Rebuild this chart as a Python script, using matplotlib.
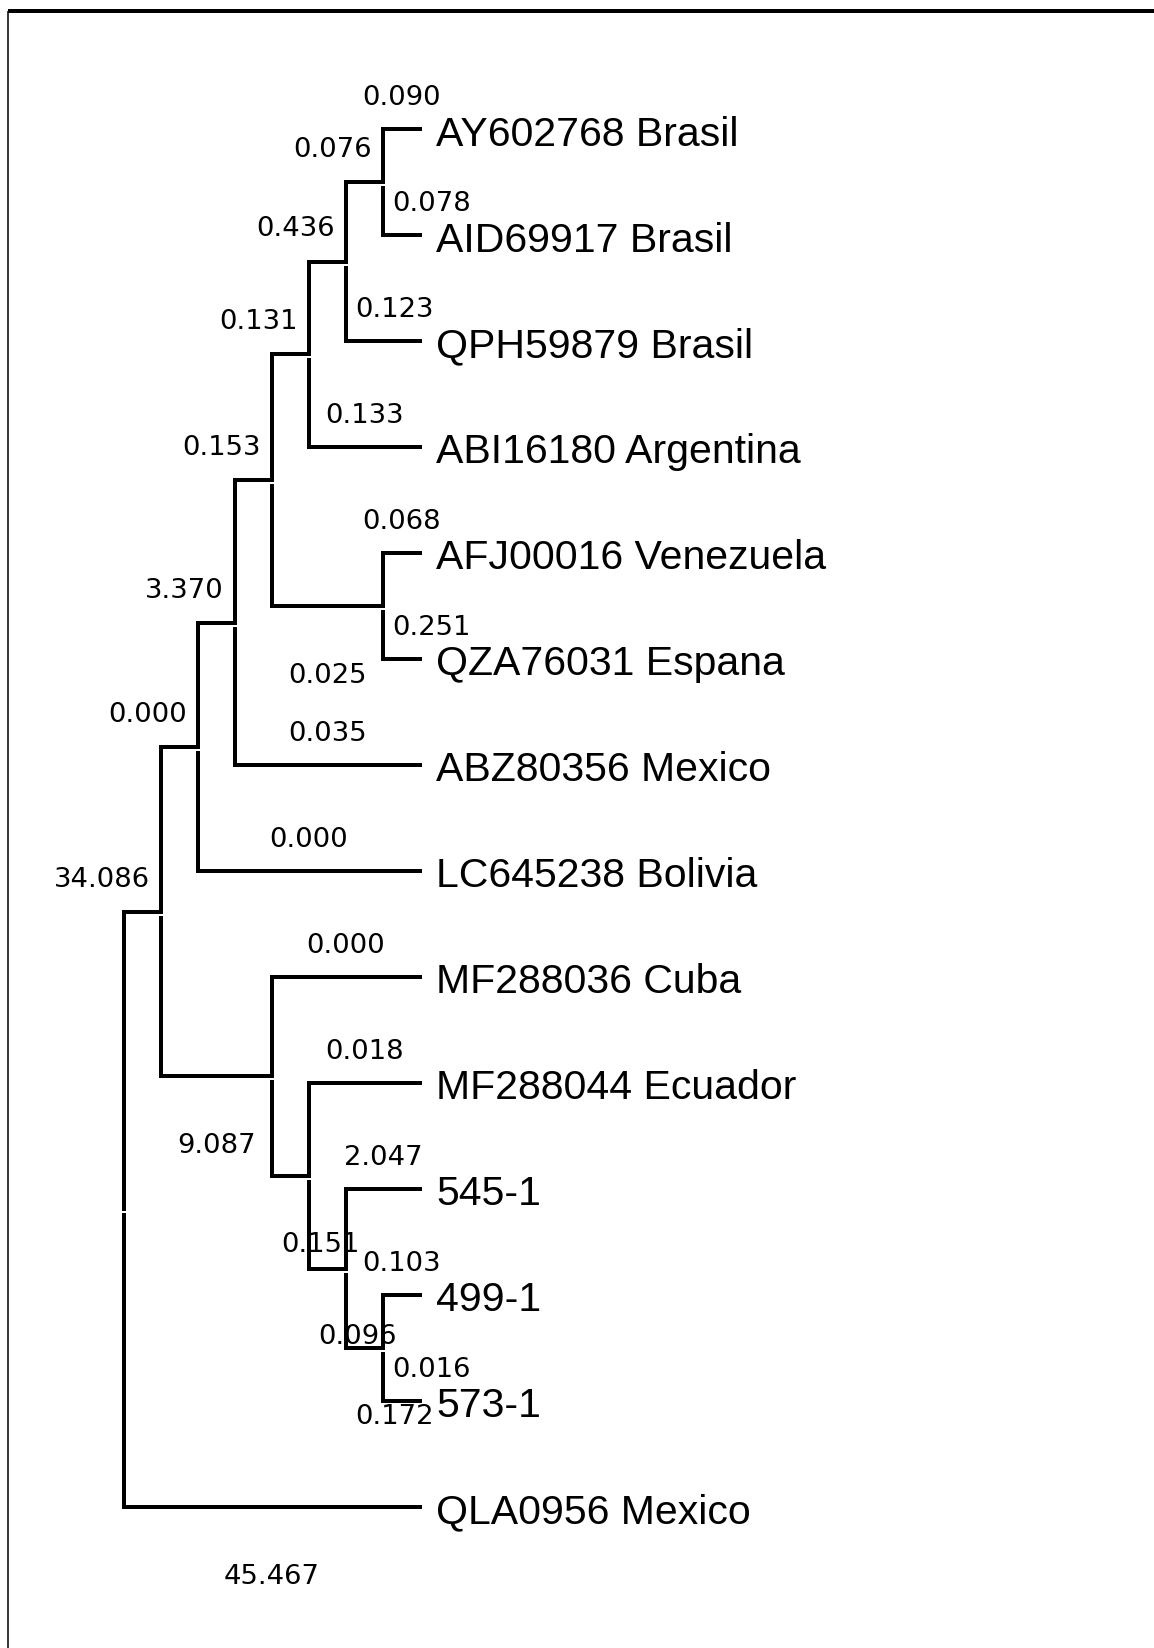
import matplotlib
matplotlib.use("Agg")
import matplotlib.pyplot as plt
from matplotlib.lines import Line2D

# ---------------- data ----------------
leaf_names = ["AY602768 Brasil", "AID69917 Brasil", "QPH59879 Brasil",
              "ABI16180 Argentina", "AFJ00016 Venezuela", "QZA76031 Espana",
              "ABZ80356 Mexico", "LC645238 Bolivia", "MF288036 Cuba",
              "MF288044 Ecuador", "545-1", "499-1", "573-1", "QLA0956 Mexico"]
leaf_lengths = [0.090, 0.078, 0.123, 0.133, 0.068, 0.251, 0.035,
                0.000, 0.000, 0.018, 2.047, 0.103, 0.016, 45.467]

# internal nodes (children are leaf indices or internal node names)
internal_names = ["N1", "N2", "N3", "N5", "N4", "N6", "B",
                  "F", "E", "D", "C", "A", "root"]
internal_children = [(0, 1), ("N1", 2), ("N2", 3), (4, 5), ("N3", "N5"),
                     ("N4", 6), ("N6", 7), (11, 12), (10, "F"), (9, "E"),
                     (8, "D"), ("B", "C"), ("A", 13)]
internal_lengths = [0.076, 0.436, 0.131, 0.025, 0.153, 3.370, 0.000,
                    0.172, 0.096, 0.151, 9.087, 34.086, None]

# where each branch-length label is drawn (style only)
leaf_label_mode = ["above", "above_r", "above_r", "above", "above", "above_r",
                   "above", "above", "above", "above", "above", "above",
                   "above_r", "below"]
internal_label_mode = ["left", "left", "left", "below", "left", "left", "left",
                       "below_r", "below_r", "below_r", "below", "left", None]

# ---------------- layout ----------------
W, H, DPI = 1154, 1649, 100
PT = 72.0 / DPI
X0_PX, STEP_X = 420, 37     # leaf tips and level spacing (pixels)
Y0_PX, STEP_Y = 130, 106    # first leaf and leaf spacing (pixels)

fig = plt.figure(figsize=(W / DPI, H / DPI), dpi=DPI)
fig.patch.set_facecolor("white")
fig.patch.set_edgecolor("none")
fig.patch.set_linewidth(0)
ax = fig.add_axes([0, 0, 1, 1])
ax.axis("off")
ax.set_xlim(X0_PX / STEP_X, (X0_PX - W) / STEP_X)
ax.set_ylim((H - Y0_PX) / STEP_Y, -Y0_PX / STEP_Y)

children = dict(zip(internal_names, internal_children))
blen = {i: v for i, v in enumerate(leaf_lengths)}
blen.update(dict(zip(internal_names, internal_lengths)))
bmode = {i: v for i, v in enumerate(leaf_label_mode)}
bmode.update(dict(zip(internal_names, internal_label_mode)))

pos = {}

def place(n):
    if isinstance(n, int):
        pos[n] = (0.0, float(n))
        return pos[n]
    c1, c2 = children[n]
    x1, y1 = place(c1)
    x2, y2 = place(c2)
    pos[n] = (max(x1, x2) + 1.0, (y1 + y2) / 2.0)
    return pos[n]

place("root")

LW = 1.5
GAP = 6.0 / STEP_Y
line_kw = dict(color="black", lw=LW, solid_capstyle="projecting",
               antialiased=False)

BR_FONT = dict(family="DejaVu Sans", fontsize=19.7)
LEAF_FONT = dict(family="Liberation Sans", fontsize=29.5)

def branch_label(parent, child):
    mode = bmode[child]
    val = blen[child]
    if mode is None or val is None:
        return
    xp, yp = pos[parent]
    xc, yc = pos[child]
    mid = (xp + xc) / 2.0
    txt = "%.3f" % val
    if mode == "above":
        xy, off, ha = (mid, yc), (0, 25), "center"
    elif mode == "above_r":
        xy, off, ha = (xp, yc), (9, 25), "left"
    elif mode == "left":
        xy, off, ha = (xc, yc), (-11, 26), "right"
    elif mode == "below":
        xy, off, ha = (mid, yc), (0, -76), "center"
    else:  # below_r
        xy, off, ha = (xp, yc), (9, -75), "left"
    ax.annotate(txt, xy=xy, xytext=(off[0] * PT, off[1] * PT),
                textcoords="offset points", ha=ha, va="baseline", **BR_FONT)

for n in internal_names:
    xn, yn = pos[n]
    c1, c2 = children[n]
    y1, y2 = pos[c1][1], pos[c2][1]
    ax.plot([xn, xn], [y1, yn], **line_kw)
    ax.plot([xn, xn], [yn + GAP, y2], **line_kw)
    for c in (c1, c2):
        xc, yc = pos[c]
        ax.plot([xn, xc], [yc, yc], **line_kw)
        branch_label(n, c)

for i, name in enumerate(leaf_names):
    xl, yl = pos[i]
    ax.annotate(name, xy=(xl, yl), xytext=(16 * PT, -15.5 * PT),
                textcoords="offset points", ha="left", va="baseline",
                **LEAF_FONT)

# frame lines (top and left) as in the original picture
fig.add_artist(Line2D([8 / W, 1.0], [1 - 12 / H, 1 - 12 / H],
                      transform=fig.transFigure, color="black", lw=1.6,
                      antialiased=False, solid_capstyle="butt"))
fig.add_artist(Line2D([8 / W, 8 / W], [0.0, 1 - 12 / H],
                      transform=fig.transFigure, color="black", lw=1.1,
                      solid_capstyle="butt"))

fig.savefig("out.png", dpi=DPI, facecolor="white", edgecolor="none")
